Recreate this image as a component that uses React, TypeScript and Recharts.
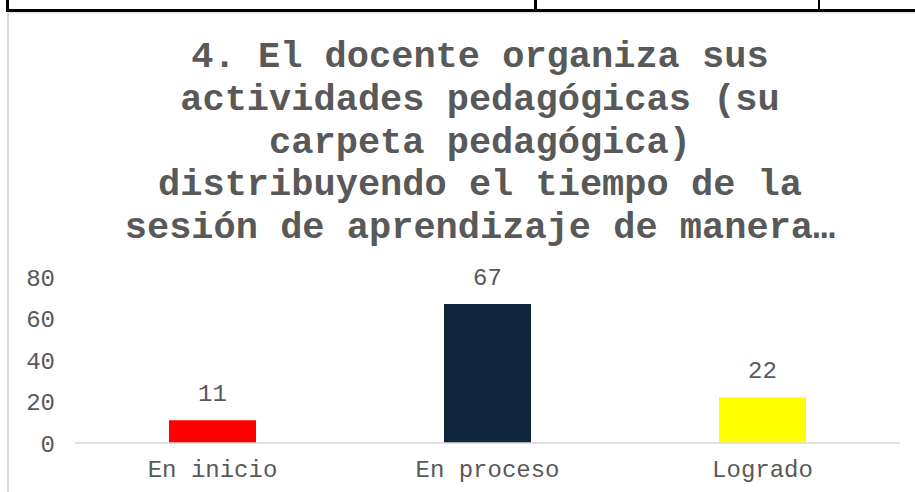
import React from 'react';
import { BarChart, Bar, XAxis, YAxis, Cell, LabelList } from 'recharts';

const categories = ['En inicio', 'En proceso', 'Logrado'];
const values = [11, 67, 22];
const colors = ['#ff0000', '#10273f', '#ffff00'];
const yTicks = [0, 20, 40, 60, 80];
const titleLines = [
  '4. El docente organiza sus',
  'actividades pedagógicas (su',
  'carpeta pedagógica)',
  'distribuyendo el tiempo de la',
  'sesión de aprendizaje de manera…',
];

const data = categories.map((name, i) => ({ name, value: values[i] }));

const FONT = '"Liberation Mono", "Courier New", monospace';
const GRAY = '#595959';

export default function App() {
  return (
    <div style={{ position: 'fixed', left: 0, top: 0, width: 915, height: 492, background: '#fff', overflow: 'hidden' }}>
      <svg width={915} height={492} style={{ position: 'absolute', left: 0, top: 0 }}>
        <rect x={7} y={12} width={2} height={480} fill="#d9d9d9" />
        <rect x={7} y={12} width={908} height={1.5} fill="#e6e6e6" />
        <rect x={6} y={9} width={909} height={3} fill="#000" />
        <rect x={6} y={0} width={3} height={12} fill="#000" />
        <rect x={534} y={0} width={3} height={12} fill="#000" />
        <rect x={818} y={0} width={2} height={12} fill="#000" />
        {titleLines.map((t, i) => (
          <text key={i} x={480} y={67 + i * 42.8} textAnchor="middle" fontFamily={FONT} fontWeight="bold" fontSize={37} fill={GRAY}>
            {t}
          </text>
        ))}
      </svg>
      <div style={{ position: 'absolute', left: 0, top: 0 }}>
        <BarChart width={915} height={492} data={data} margin={{ top: 277, right: 15, left: 0, bottom: 19 }} barSize={87}>
          <XAxis
            dataKey="name"
            axisLine={{ stroke: '#d9d9d9', strokeWidth: 1.5 }}
            tickLine={false}
            tickMargin={11}
            height={30}
            tick={{ fill: GRAY, fontSize: 24, fontFamily: FONT }}
          />
          <YAxis
            domain={[0, 80]}
            ticks={yTicks}
            axisLine={false}
            tickLine={false}
            tickMargin={14}
            width={75}
            tick={{ fill: GRAY, fontSize: 24, fontFamily: FONT }}
          />
          <Bar dataKey="value" isAnimationActive={false}>
            {data.map((d, i) => (
              <Cell key={d.name} fill={colors[i]} />
            ))}
            <LabelList dataKey="value" position="top" offset={19} fill={GRAY} fontSize={24} fontFamily={FONT} />
          </Bar>
        </BarChart>
      </div>
    </div>
  );
}
